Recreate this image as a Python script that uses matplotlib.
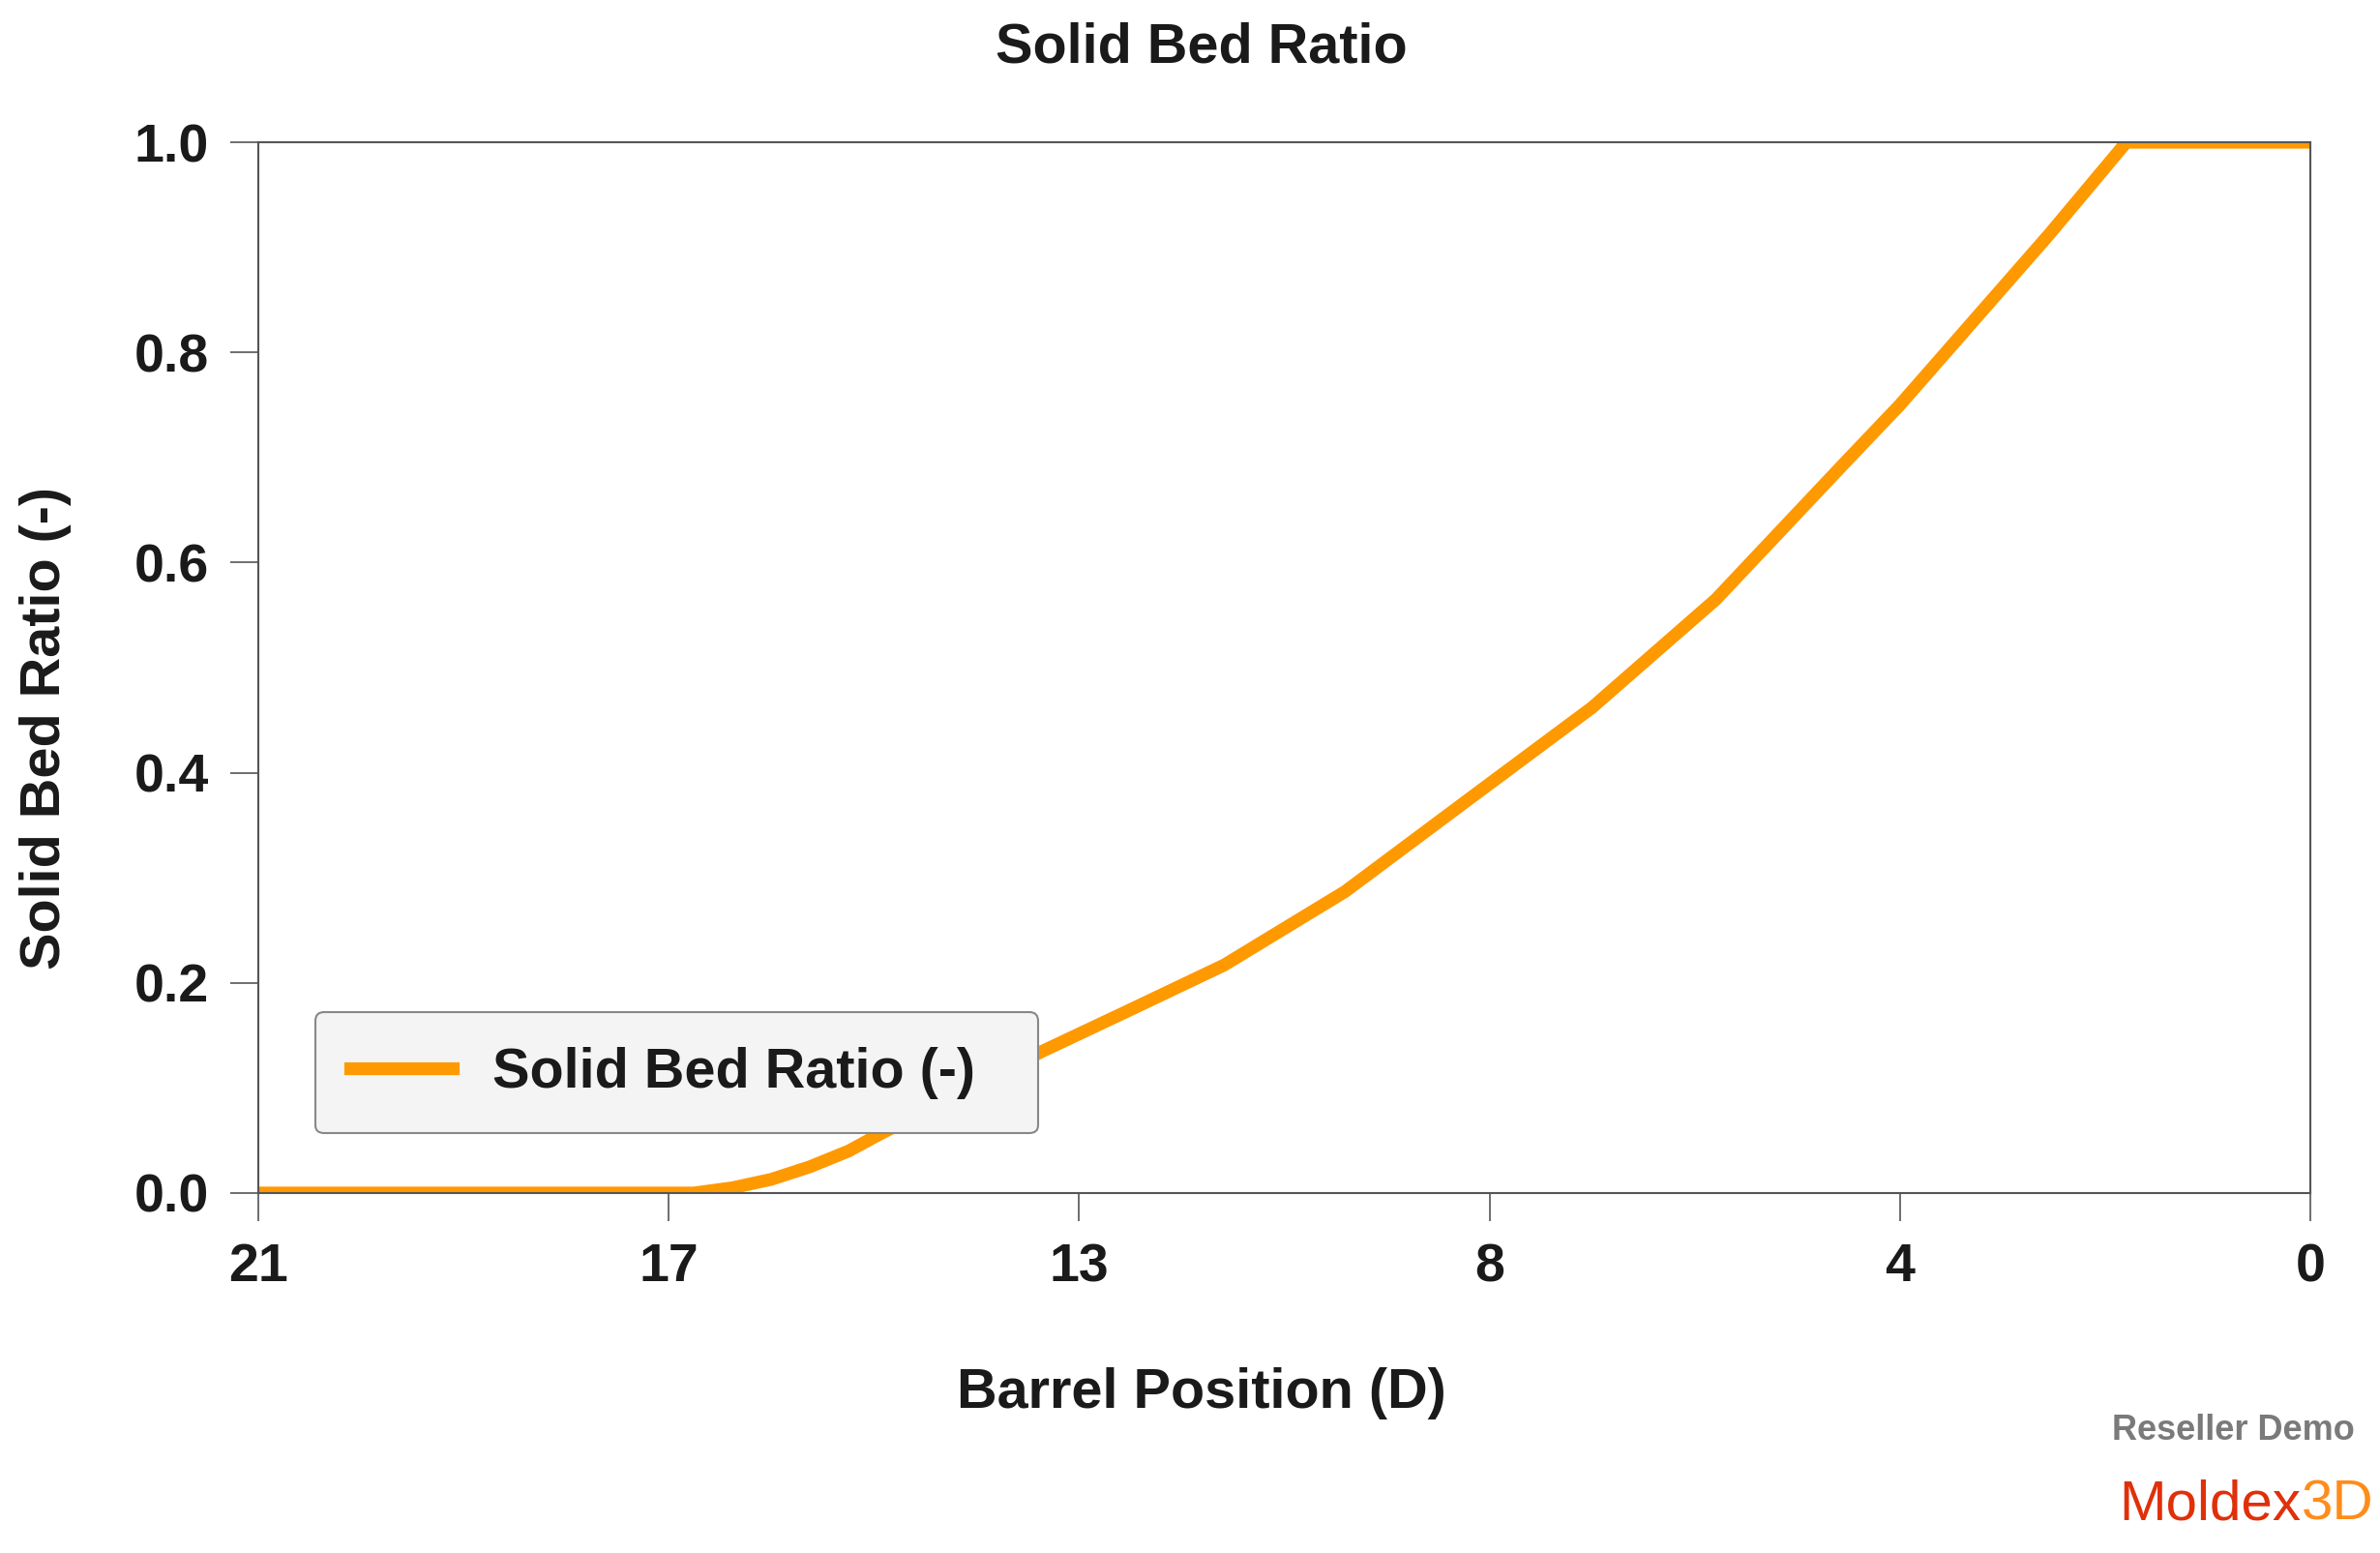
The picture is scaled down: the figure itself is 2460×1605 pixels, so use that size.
import matplotlib
matplotlib.use("Agg")
from matplotlib import pyplot as plt

import numpy as np

# barrel position (D) and solid bed ratio
position = [21.2, 16.7, 16.3, 15.9, 15.5, 15.1, 14.8, 14.0, 13.12, 12.2, 11.22,
            9.97, 8.69, 7.42, 6.14, 4.86, 4.24, 2.70, 1.90, 0.0]
ratio = [0.0, 0.0, 0.005, 0.013, 0.025, 0.040, 0.055, 0.093, 0.134, 0.174, 0.217,
         0.287, 0.375, 0.462, 0.565, 0.690, 0.750, 0.912, 1.0, 1.0]

x_ticks = np.linspace(21.2, 0.0, 6)
x_tick_labels = ['21', '17', '13', '8', '4', '0']
y_ticks = [0.0, 0.2, 0.4, 0.6, 0.8, 1.0]

plt.rcParams['font.family'] = ['Liberation Sans', 'DejaVu Sans']
TXT = '#1a1a1a'
SPINE = '#555555'
FS = 41.5

fig = plt.figure(figsize=(24.6, 16.05), dpi=100)
ax = fig.add_axes([0.1085, 0.2318, 0.8622, 0.6766])

ax.plot(position, ratio, color='#ff9900', lw=9.5, label='Solid Bed Ratio (-)')

ax.set_xlim(21.2, 0.0)
ax.set_ylim(0.0, 1.0)
ax.set_xticks(x_ticks)
ax.set_xticklabels(x_tick_labels)
ax.set_yticks(y_ticks)
ax.set_yticklabels([f'{v:.1f}' for v in y_ticks])

for s in ax.spines.values():
    s.set_color(SPINE)
    s.set_linewidth(1.5)

ax.tick_params(direction='out', length=21, width=1.2, color=SPINE, pad=16,
               labelsize=40, labelcolor=TXT)
for lab in ax.get_xticklabels() + ax.get_yticklabels():
    lab.set_fontweight('bold')

fig.text(0.505, 0.969, 'Solid Bed Ratio', ha='center', va='center',
         fontsize=FS, fontweight='bold', color=TXT)
fig.text(0.505, 0.1028, 'Barrel Position (D)', ha='center', va='center',
         fontsize=FS, fontweight='bold', color=TXT)
fig.text(0.019, 0.531, 'Solid Bed Ratio (-)', ha='center', va='center',
         rotation=90, fontsize=FS, fontweight='bold', color=TXT)

leg = ax.legend(loc='upper left', bbox_to_anchor=(0.0278, 0.0552, 0.3522, 0.1170),
                mode='expand', borderaxespad=0, fontsize=FS, handlelength=1.85,
                handletextpad=0.7, borderpad=0.62, fancybox=True,
                framealpha=1, facecolor='#f4f4f4', edgecolor='#888888')
leg.get_frame().set_linewidth(1.5)
leg.get_frame().set_boxstyle('round', pad=0.0, rounding_size=0.15)
for t in leg.get_texts():
    t.set_fontweight('bold')
    t.set_color(TXT)

fig.text(0.9894, 0.0791, 'Reseller Demo', ha='right', va='center',
         fontsize=26, fontweight='bold', color='#7a7a7a')
fig.text(0.967, 0.0310, 'Moldex', ha='right', va='center',
         fontsize=42, color='#e0300a')
fig.text(0.967, 0.0310, '3D', ha='left', va='center',
         fontsize=42, color='#ff8c1a')

fig.savefig('out.png', dpi=100)
